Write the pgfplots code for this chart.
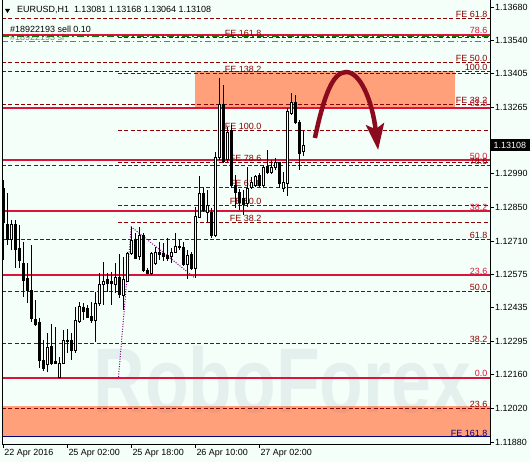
\documentclass[border=0pt]{standalone}
\usepackage{pgfplots}
\pgfplotsset{compat=1.18}
\usepackage{pgfplotstable}
\usepackage{graphicx}
\usepackage{fontspec}
\setmainfont{Liberation Sans}
\usetikzlibrary{arrows.meta}
\definecolor{bg}{HTML}{F5FFFA}
\definecolor{crim}{HTML}{DC143C}
\definecolor{dred}{HTML}{8B0000}
\definecolor{salm}{HTML}{FFA07A}
\definecolor{arrowred}{HTML}{8B0A1E}
\definecolor{ordgreen}{HTML}{008000}
\definecolor{slorange}{HTML}{FF4500}
\definecolor{navyb}{HTML}{000080}
\definecolor{zz}{HTML}{800080}
\definecolor{wm}{HTML}{5A7A8A}
\pgfplotstableread{
i o h l c
0 1.12931 1.12964 1.12633 1.12787
1 1.12782 1.12910 1.12695 1.12720
2 1.12720 1.12799 1.12674 1.12782
3 1.12782 1.12799 1.12600 1.12678
4 1.12682 1.12778 1.12600 1.12633
5 1.12620 1.12708 1.12480 1.12550
6 1.12558 1.12620 1.12455 1.12509
7 1.12509 1.12695 1.12377 1.12393
8 1.12389 1.12468 1.12360 1.12368
9 1.12373 1.12393 1.12186 1.12219
10 1.12219 1.12302 1.12174 1.12186
11 1.12203 1.12331 1.12170 1.12273
12 1.12277 1.12368 1.12199 1.12207
13 1.12215 1.12356 1.12203 1.12207
14 1.12149 1.12232 1.12145 1.12207
15 1.12207 1.12343 1.12203 1.12302
16 1.12298 1.12347 1.12248 1.12302
17 1.12302 1.12331 1.12219 1.12257
18 1.12257 1.12439 1.12248 1.12385
19 1.12377 1.12460 1.12373 1.12443
20 1.12435 1.12455 1.12385 1.12422
21 1.12431 1.12447 1.12393 1.12397
22 1.12401 1.12460 1.12373 1.12385
23 1.12385 1.12501 1.12294 1.12455
24 1.12455 1.12579 1.12443 1.12534
25 1.12534 1.12625 1.12447 1.12546
26 1.12554 1.12579 1.12501 1.12538
27 1.12546 1.12583 1.12447 1.12538
28 1.12534 1.12620 1.12497 1.12563
29 1.12563 1.12658 1.12476 1.12492
30 1.12488 1.12645 1.12426 1.12554
31 1.12546 1.12666 1.12542 1.12662
32 1.12662 1.12770 1.12654 1.12716
33 1.12720 1.12745 1.12637 1.12641
34 1.12646 1.12770 1.12633 1.12736
35 1.12736 1.12745 1.12583 1.12592
36 1.12592 1.12600 1.12575 1.12579
37 1.12579 1.12666 1.12571 1.12662
38 1.12620 1.12687 1.12612 1.12666
39 1.12666 1.12708 1.12633 1.12658
40 1.12662 1.12703 1.12629 1.12650
41 1.12654 1.12724 1.12629 1.12641
42 1.12646 1.12683 1.12620 1.12666
43 1.12666 1.12745 1.12662 1.12691
44 1.12691 1.12716 1.12674 1.12687
45 1.12687 1.12708 1.12608 1.12616
46 1.12616 1.12674 1.12554 1.12654
47 1.12658 1.12666 1.12592 1.12600
48 1.12600 1.12852 1.12558 1.12815
49 1.12811 1.12981 1.12807 1.12910
50 1.12910 1.12931 1.12832 1.12840
51 1.12832 1.12923 1.12790 1.12861
52 1.12832 1.12848 1.12724 1.12736
53 1.12736 1.13080 1.12728 1.13059
54 1.13059 1.13386 1.13047 1.13275
55 1.13275 1.13357 1.13035 1.13043
56 1.13051 1.13183 1.13039 1.13163
57 1.13171 1.13192 1.12931 1.12943
58 1.12943 1.12985 1.12848 1.12914
59 1.12914 1.12927 1.12840 1.12873
60 1.12890 1.12923 1.12819 1.12865
61 1.12869 1.13018 1.12852 1.12931
62 1.12935 1.12977 1.12927 1.12956
63 1.12943 1.12985 1.12935 1.12977
64 1.12985 1.12993 1.12935 1.12943
65 1.12943 1.13026 1.12935 1.13018
66 1.13022 1.13088 1.12989 1.12997
67 1.12997 1.13047 1.12989 1.13018
68 1.13018 1.13055 1.13006 1.13035
69 1.13035 1.13039 1.12931 1.12952
70 1.12931 1.12997 1.12914 1.12956
71 1.12952 1.13262 1.12898 1.13246
72 1.13241 1.13324 1.13233 1.13287
73 1.13287 1.13316 1.13196 1.13204
74 1.13204 1.13212 1.13006 1.13076
75 1.13081 1.13168 1.13064 1.13108
}\candles
\tikzset{fedash/.style={dred, line width=0.8bp, dash pattern=on 4bp off 2.3bp}}
\newcommand{\hl}[3]{\addplot[#1] coordinates {(#2,#3) (121.675,#3)};}
\newcommand{\lab}[4]{\node[anchor=south east, inner sep=0.6bp, text=#1, font=\fontsize{9}{10}\selectfont] at (axis cs:#2,#3) {#4};}
\begin{document}
\begin{tikzpicture}
\path[use as bounding box] (-2bp,-18bp) rectangle (528bp,444bp);
\fill[bg] (-2bp,-18bp) rectangle (528bp,444bp);
\begin{axis}[
  scale only axis, width=488bp, height=444bp,
  at={(0,0)}, anchor=south west,
  xmin=-0.325, xmax=121.675, ymin=1.118717, ymax=1.13709,
  clip=false,
  axis line style={draw=none},
  tick align=outside, major tick length=4bp,
  tick style={black, line width=0.8bp},
  xtick pos=bottom, ytick pos=right, yticklabel pos=right,
  xtick={0,16,32,48,64},
  xticklabels={22 Apr 2016, 25 Apr 02:00, 25 Apr 18:00, 26 Apr 10:00, 27 Apr 02:00},
  ytick={1.11880,1.12020,1.12160,1.12295,1.12435,1.12575,1.12710,1.12850,1.12990,1.13125,1.13265,1.13405,1.13540,1.13680},
  yticklabels={1.11880,1.12020,1.12160,1.12295,1.12435,1.12575,1.12710,1.12850,1.12990,{},1.13265,1.13405,1.13540,1.13680},
  tick label style={font=\fontsize{9}{10}\selectfont, black},
  xticklabel style={anchor=north west, inner sep=1bp},
  yticklabel style={anchor=west, inner sep=1bp},
]
% zones
\addplot[fill=salm, draw=none] coordinates {(47.9,1.13262) (112.9,1.13262) (112.9,1.13415) (47.9,1.13415)} -- cycle;
\addplot[fill=salm, draw=none] coordinates {(-0.325,1.11901) (121.675,1.11901) (121.675,1.12029) (-0.325,1.12029)} -- cycle;
% watermark
\node[anchor=base west, inner sep=0pt, text=wm, opacity=0.11, font=\fontsize{92}{92}\selectfont\bfseries] at (axis cs:22.5,1.12004) {\scalebox{0.78}[1]{RoboForex}};
\node[anchor=base west, inner sep=0pt, text=gray, font=\fontsize{9}{10}\selectfont] at (axis cs:1.675,1.13541) {\#18922193 sl};
% full dashed levels
\hl{fedash}{-0.325}{1.13632}
\hl{fedash}{-0.325}{1.13452}
\hl{fedash}{-0.325}{1.13415}
\hl{fedash}{-0.325}{1.13277}
\hl{fedash}{-0.325}{1.13026}
\hl{fedash}{-0.325}{1.12720}
\hl{fedash}{-0.325}{1.12505}
\hl{fedash}{-0.325}{1.12290}
\hl{fedash}{-0.325}{1.12021}
% partial FE levels
\hl{fedash}{28.7}{1.13555}
\hl{fedash}{28.7}{1.13407}
\hl{fedash}{28.7}{1.13171}
\hl{fedash}{28.7}{1.13039}
\hl{fedash}{28.7}{1.12935}
\hl{fedash}{28.7}{1.12861}
\hl{fedash}{28.7}{1.12790}
% red fib levels
\hl{crim, line width=2bp}{-0.325}{1.13566}
\hl{crim, line width=2bp}{-0.325}{1.13264}
\hl{crim, line width=2bp}{-0.325}{1.13047}
\hl{crim, line width=2bp}{-0.325}{1.12836}
\hl{crim, line width=2bp}{-0.325}{1.12571}
\hl{crim, line width=2bp}{-0.325}{1.12146}
\hl{navyb, line width=1bp}{-0.325}{1.11901}
\hl{ordgreen, line width=1.5bp, dash pattern=on 7bp off 3bp on 2bp off 3bp}{-0.325}{1.13561}
\hl{slorange, line width=0.9bp, dash pattern=on 6bp off 3bp on 1.5bp off 3bp}{-0.325}{1.13537}
% right labels
\lab{dred}{121.2}{1.13632}{FE 61.8}
\lab{crim}{121.2}{1.13566}{78.6}
\lab{dred}{121.2}{1.13452}{FE 50.0}
\lab{dred}{121.2}{1.13415}{100.0}
\lab{dred}{121.2}{1.13277}{FE 38.2}
\lab{crim}{121.2}{1.13264}{61.8}
\lab{crim}{121.2}{1.13047}{50.0}
\lab{dred}{121.2}{1.13026}{78.6}
\lab{crim}{121.2}{1.12836}{38.2}
\lab{dred}{121.2}{1.12720}{61.8}
\lab{crim}{121.2}{1.12571}{23.6}
\lab{dred}{121.2}{1.12505}{50.0}
\lab{dred}{121.2}{1.12290}{38.2}
\lab{crim}{121.2}{1.12146}{0.0}
\lab{dred}{121.2}{1.12021}{23.6}
\lab{navyb}{121.2}{1.11901}{FE 161.8}
% mid labels
\lab{dred}{64.7}{1.13555}{FE 161.8}
\lab{dred}{64.7}{1.13407}{FE 138.2}
\lab{dred}{64.7}{1.13171}{FE 100.0}
\lab{dred}{64.7}{1.13039}{FE 78.6}
\lab{dred}{64.7}{1.12935}{FE 61.8}
\lab{dred}{64.7}{1.12861}{FE 50.0}
\lab{dred}{64.7}{1.12790}{FE 38.2}
% zigzag
\addplot[zz, line width=1bp, dash pattern=on 1bp off 1.5bp] coordinates {(28.8,1.12149) (32,1.12770) (47.9,1.12559)};
% candles
\pgfplotsinvokeforeach{0,...,75}{
  \pgfplotstablegetelem{#1}{o}\of\candles\edef\cO{\pgfplotsretval}
  \pgfplotstablegetelem{#1}{h}\of\candles\edef\cH{\pgfplotsretval}
  \pgfplotstablegetelem{#1}{l}\of\candles\edef\cL{\pgfplotsretval}
  \pgfplotstablegetelem{#1}{c}\of\candles\edef\cC{\pgfplotsretval}
  \pgfmathsetmacro\xl{#1-0.3}
  \pgfmathsetmacro\xr{#1+0.3}
  \pgfmathparse{\cC<\cO}
  \ifdim\pgfmathresult pt>0.5pt \def\fc{black}\else\def\fc{white}\fi
  \edef\tmp{\noexpand\addplot[black, line width=1bp] coordinates {(#1,\cH) (#1,\cL)};
    \noexpand\addplot[fill=\fc, draw=black, line width=0.8bp] coordinates {(\xl,\cO) (\xr,\cO) (\xr,\cC) (\xl,\cC)} -- cycle;}
  \tmp
}
% arrow
\draw[arrowred, line width=4.5bp, -{Stealth[length=26bp, width=18bp, inset=5bp]}]
  (axis cs:77.9,1.13138) .. controls (axis cs:80.2,1.13316) and (axis cs:82.4,1.13411) ..
  (axis cs:85.7,1.13411) .. controls (axis cs:89.2,1.13411) and (axis cs:92.2,1.13295) ..
  (axis cs:93.7,1.13088);
% header texts
\fill[black] (axis cs:0.425,1.13672) -- (axis cs:1.675,1.13672) -- (axis cs:1.05,1.13655) -- cycle;
\node[anchor=west, inner sep=0pt, font=\fontsize{9}{10}\selectfont] at (axis cs:3.43,1.13666) {EURUSD,H1\ \ 1.13081 1.13168 1.13064 1.13108};
\node[anchor=base west, inner sep=0pt, font=\fontsize{9}{10}\selectfont] at (axis cs:1.675,1.13574) {\#18922193 sell 0.10};
% frame
\draw[black, line width=0.8bp] (rel axis cs:0,1) -- (rel axis cs:0,0) -- (rel axis cs:1,0) -- (rel axis cs:1,1);
% price box
\node[fill=black, text=white, anchor=west, inner xsep=3.5bp, inner ysep=1.5bp, minimum height=11.5bp, font=\fontsize{9}{10}\selectfont] at (axis cs:121.675,1.13108) {1.13108};
\end{axis}
\end{tikzpicture}
\end{document}
